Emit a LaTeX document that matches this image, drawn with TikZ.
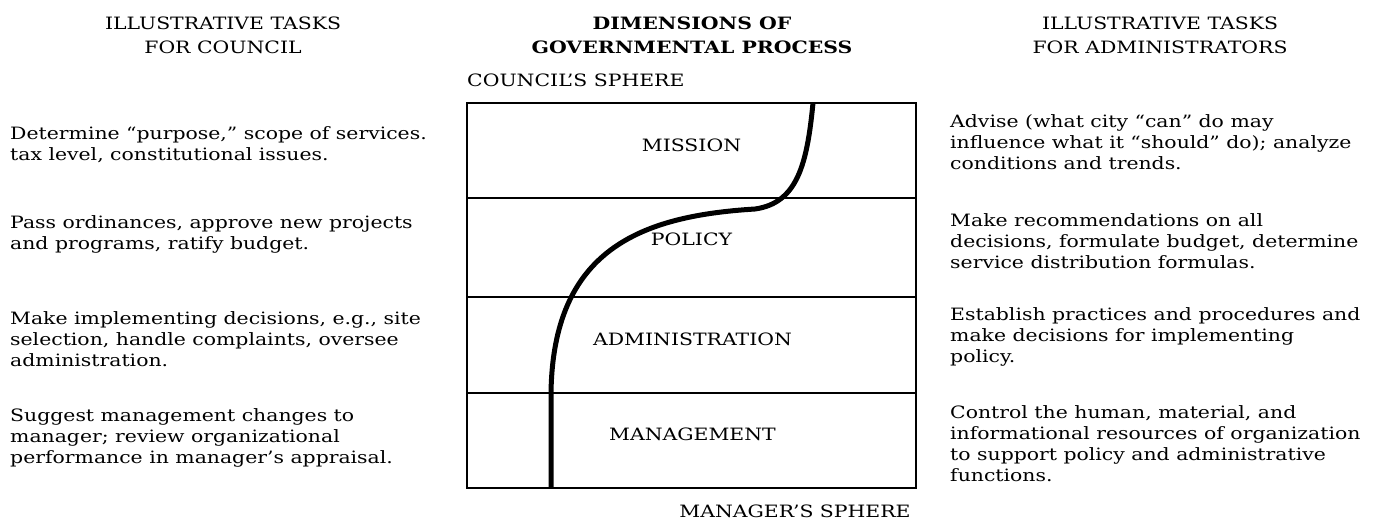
\documentclass[tikz,border=0pt]{standalone}
\usepackage{fontspec}
\setmainfont[FakeStretch=1.2]{DejaVu Serif}
\begin{document}
\begin{tikzpicture}[x=1pt,y=-1pt,
  txt/.style={font=\fontsize{17}{21}\selectfont, inner sep=0pt, align=left, anchor=north west},
  head/.style={font=\fontsize{17}{24}\selectfont, inner sep=0pt, align=center, anchor=north},
  lab/.style={font=\fontsize{17}{21}\selectfont, inner sep=0pt},
  band/.style={draw, line width=1.8pt, minimum width=449pt, inner sep=0pt, outer sep=0pt,
    anchor=north west},
  track/.style={line width=5pt}]
\useasboundingbox (0,0) rectangle (1375,523);

% column headings
\node[head] (hleft) at (223,17) {ILLUSTRATIVE TASKS\\FOR COUNCIL};
\node[head, font=\bfseries\fontsize{17}{24}\selectfont] (hmid) at (692,17) {DIMENSIONS OF\\GOVERNMENTAL PROCESS};
\node[head] (hright) at (1160,17) {ILLUSTRATIVE TASKS\\FOR ADMINISTRATORS};

% the four dimensions, stacked
\node[band, minimum height=95pt] (mission) at (467,103) {};
\node[band, minimum height=99pt] (policy) at (mission.south west) {};
\node[band, minimum height=96pt] (admin) at (policy.south west) {};
\node[band, minimum height=95pt] (mgmt) at (admin.south west) {};

\node[lab] (lmission) at ([yshift=5pt]mission.center) {MISSION};
\node[lab] (lpolicy) at ([yshift=8pt]policy.center) {POLICY};
\node[lab] (ladmin) at ([xshift=1pt,yshift=6pt]admin.center) {ADMINISTRATION};
\node[lab] (lmgmt) at ([xshift=1pt,yshift=6pt]mgmt.center) {MANAGEMENT};

\node[lab, anchor=west] (council) at (467,80) {COUNCIL'S SPHERE};
\node[lab] (manager) at (795,511) {MANAGER'S SPHERE};

% boundary between the two spheres
\coordinate (ctop) at (813,103);
\coordinate (cbend) at (755,209);
\coordinate (cknee) at (551,393);
\coordinate (cbot) at (551,488);
\draw[track] (ctop) .. controls (807,165) and (797,203) .. (cbend)
  .. controls (640,216) and (553,250) .. (cknee) -- (cbot);

% tasks for council
\node[txt] (c1) at (10,126) {Determine ``purpose,'' scope of services.\\tax level, constitutional issues.};
\node[txt] (c2) at (10,215) {Pass ordinances, approve new projects\\and programs, ratify budget.};
\node[txt] (c3) at (10,311) {Make implementing decisions, e.g., site\\selection, handle complaints, oversee\\administration.};
\node[txt] (c4) at (10,408) {Suggest management changes to\\manager; review organizational\\performance in manager's appraisal.};

% tasks for administrators
\node[txt] (a1) at (950,114) {Advise (what city ``can'' do may\\influence what it ``should'' do); analyze\\conditions and trends.};
\node[txt] (a2) at (950,213) {Make recommendations on all\\decisions, formulate budget, determine\\service distribution formulas.};
\node[txt] (a3) at (950,307) {Establish practices and procedures and\\make decisions for implementing\\policy.};
\node[txt] (a4) at (950,405) {Control the human, material, and\\informational resources of organization\\to support policy and administrative\\functions.};
\end{tikzpicture}
\end{document}
